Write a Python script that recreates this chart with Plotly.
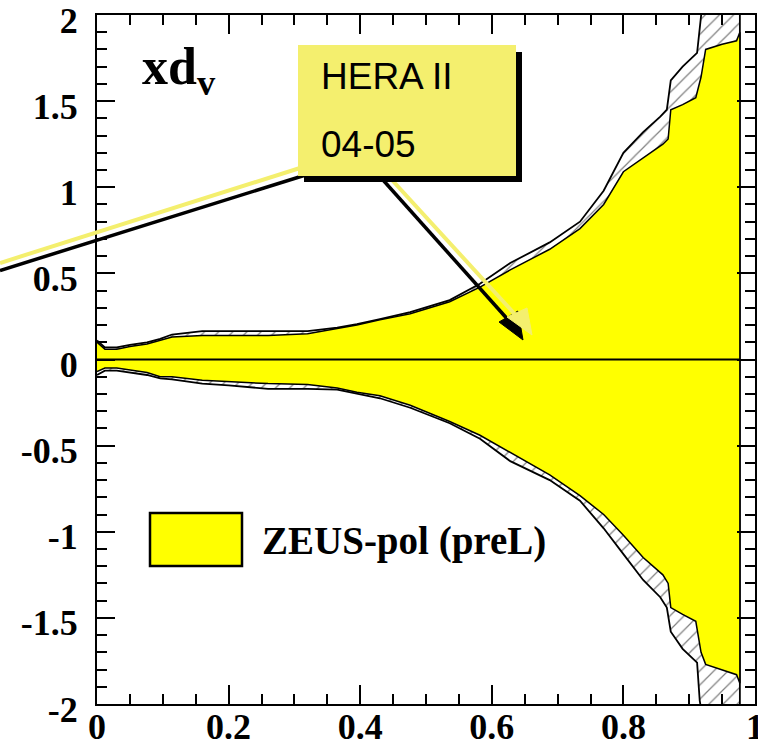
import plotly.graph_objects as go

# ---------------- data ----------------
x_band = [0.0, 0.012, 0.03, 0.05, 0.076, 0.096, 0.114, 0.16, 0.20, 0.26, 0.32, 0.365, 0.395,
          0.43, 0.476, 0.536, 0.582, 0.628, 0.688, 0.734, 0.77, 0.80, 0.83, 0.86, 0.868,
          0.872, 0.89, 0.91, 0.918, 0.925, 0.95, 0.972, 0.977]
yellow_hi = [0.10, 0.06, 0.06, 0.075, 0.09, 0.11, 0.13, 0.14, 0.14, 0.14, 0.15, 0.18, 0.20,
             0.23, 0.266, 0.335, 0.42, 0.52, 0.64, 0.76, 0.90, 1.09, 1.17, 1.25, 1.28,
             1.45, 1.48, 1.52, 1.64, 1.80, 1.83, 1.85, 1.90]
yellow_lo = [-0.07, -0.05, -0.05, -0.06, -0.075, -0.10, -0.10, -0.12, -0.13, -0.14, -0.145, -0.165, -0.19,
             -0.21, -0.266, -0.36, -0.44, -0.54, -0.67, -0.79, -0.90, -1.02, -1.15, -1.25, -1.30,
             -1.44, -1.48, -1.52, -1.70, -1.77, -1.80, -1.83, -1.88]

x_hatch = [0.0, 0.012, 0.03, 0.05, 0.076, 0.096, 0.114, 0.16, 0.20, 0.26, 0.32, 0.365, 0.395,
           0.43, 0.476, 0.536, 0.582, 0.628, 0.688, 0.734, 0.77, 0.80, 0.83, 0.856, 0.866,
           0.872, 0.89, 0.912, 0.916, 0.921, 0.977]
hatch_hi = [0.11, 0.07, 0.07, 0.085, 0.10, 0.12, 0.145, 0.165, 0.165, 0.165, 0.165, 0.185, 0.205,
            0.235, 0.275, 0.345, 0.44, 0.56, 0.68, 0.80, 0.98, 1.20, 1.32, 1.41, 1.45,
            1.62, 1.70, 1.78, 1.91, 2.1, 2.1]
hatch_lo = [-0.09, -0.065, -0.065, -0.075, -0.09, -0.11, -0.115, -0.14, -0.15, -0.17, -0.17, -0.175, -0.20,
            -0.225, -0.28, -0.37, -0.46, -0.59, -0.70, -0.82, -0.98, -1.13, -1.28, -1.38, -1.44,
            -1.58, -1.68, -1.76, -1.98, -2.1, -2.1]

x_tickvals = [0, 0.2, 0.4, 0.6, 0.8, 1.0]
x_ticktext = ["0", "0.2", "0.4", "0.6", "0.8", "1"]
y_tickvals = [-2, -1.5, -1, -0.5, 0, 0.5, 1, 1.5, 2]
y_ticktext = ["-2", "-1.5", "-1", "-0.5", "0", "0.5", "1", "1.5", "2"]

legend_label = "ZEUS-pol (preL)"
panel_label = "xd<sub>v</sub>"
note_lines = ["HERA II", "04-05"]

# ---------------- layout geometry ----------------
W, H = 758, 747
L, R, T, B = 97, 3, 15, 43
PW, PH = W - L - R, H - T - B


def px(v):
    return (v - L) / PW


def py(v):
    return (H - B - v) / PH


SERIF = "Liberation Serif"
SANS = "Liberation Sans"
NOTE_YELLOW = "#F4EF6E"

fig = go.Figure()

# hatched (outer) band
fig.add_trace(go.Scatter(
    x=x_hatch + x_hatch[::-1],
    y=hatch_hi + hatch_lo[::-1],
    mode="lines", fill="toself", fillcolor="white",
    fillpattern=dict(shape="/", fgcolor="black", bgcolor="white", size=10, solidity=0.12),
    line=dict(color="black", width=1.8), hoverinfo="skip", showlegend=False))

# yellow band
fig.add_trace(go.Scatter(
    x=x_band + x_band[::-1],
    y=yellow_hi + yellow_lo[::-1],
    mode="lines", fill="toself", fillcolor="#FFFF00",
    line=dict(color="black", width=1.5), hoverinfo="skip", showlegend=False))

# zero line
fig.add_trace(go.Scatter(
    x=[x_band[0], x_band[-1]], y=[0, 0], mode="lines",
    line=dict(color="black", width=2), hoverinfo="skip", showlegend=False))

shapes = []


def line_px(x0, y0, x1, y1, color, width):
    shapes.append(dict(type="line", xref="paper", yref="paper",
                       x0=px(x0), y0=py(y0), x1=px(x1), y1=py(y1),
                       line=dict(color=color, width=width)))


def poly_px(pts, color):
    d = "M " + " L ".join(f"{px(a)},{py(b)}" for a, b in pts) + " Z"
    shapes.append(dict(type="path", xref="paper", yref="paper", path=d,
                       fillcolor=color, line=dict(color=color, width=1)))


def rect_px(x0, y0, x1, y1, fill, lc, lw):
    shapes.append(dict(type="rect", xref="paper", yref="paper",
                       x0=px(x0), y0=py(y1), x1=px(x1), y1=py(y0),
                       fillcolor=fill, line=dict(color=lc, width=lw)))


# callout lines and arrow
line_px(0, 270.5, 312, 173, "black", 3.5)
line_px(0, 263, 300, 168, NOTE_YELLOW, 4)
line_px(383, 180, 510, 322, "black", 3.5)
poly_px([(499, 322), (518, 311), (523, 340)], "black")
line_px(392, 180, 522, 322, NOTE_YELLOW, 4)
poly_px([(507, 317), (527, 308), (532, 335)], NOTE_YELLOW)

# note box with shadow
rect_px(304, 52, 522, 182, "black", "black", 0)
rect_px(298, 45, 516, 176, NOTE_YELLOW, NOTE_YELLOW, 0)

# legend swatch
rect_px(150, 513, 242, 566, "#FFFF00", "black", 2.5)

annotations = [
    dict(xref="paper", yref="paper", x=px(319), y=py(77), xanchor="left", yanchor="middle",
         text=note_lines[0], showarrow=False, font=dict(family=SANS, size=37, color="black")),
    dict(xref="paper", yref="paper", x=px(319), y=py(144), xanchor="left", yanchor="middle",
         text=note_lines[1], showarrow=False, font=dict(family=SANS, size=37, color="black")),
    dict(xref="paper", yref="paper", x=px(140), y=py(70), xanchor="left", yanchor="middle",
         text=panel_label, showarrow=False,
         font=dict(family=SERIF, size=52, color="black", weight="bold")),
    dict(xref="paper", yref="paper", x=px(260), y=py(541), xanchor="left", yanchor="middle",
         text=legend_label, showarrow=False,
         font=dict(family=SERIF, size=39, color="black", weight="bold")),
]

tickfont = dict(family=SERIF, size=36, color="black", weight="bold")

fig.update_layout(
    width=W, height=H,
    margin=dict(l=L, r=R, t=T, b=B, pad=0, autoexpand=False),
    paper_bgcolor="white", plot_bgcolor="white",
    showlegend=False,
    shapes=shapes, annotations=annotations,
    xaxis=dict(range=[0, 1], showgrid=False, zeroline=False, automargin=False,
               showline=True, linecolor="black", linewidth=2, mirror="ticks",
               ticks="inside", ticklen=19, tickwidth=1.5, tickcolor="black",
               tickvals=x_tickvals, ticktext=x_ticktext, tickfont=tickfont,
               ticklabelstandoff=-10, ticklabeloverflow="allow",
               minor=dict(dtick=0.05, ticks="inside", ticklen=10, tickwidth=1.5, tickcolor="black",
                          showgrid=False)),
    yaxis=dict(range=[-2, 2], showgrid=False, zeroline=False, automargin=False,
               showline=True, linecolor="black", linewidth=2, mirror="ticks",
               ticks="inside", ticklen=18, tickwidth=1.5, tickcolor="black",
               tickvals=y_tickvals, ticktext=y_ticktext, tickfont=tickfont,
               ticklabelstandoff=10, ticklabelshift=5, ticklabeloverflow="allow",
               minor=dict(dtick=0.1, ticks="inside", ticklen=10, tickwidth=1.5, tickcolor="black",
                          showgrid=False)),
)

fig.write_html("out.html")
